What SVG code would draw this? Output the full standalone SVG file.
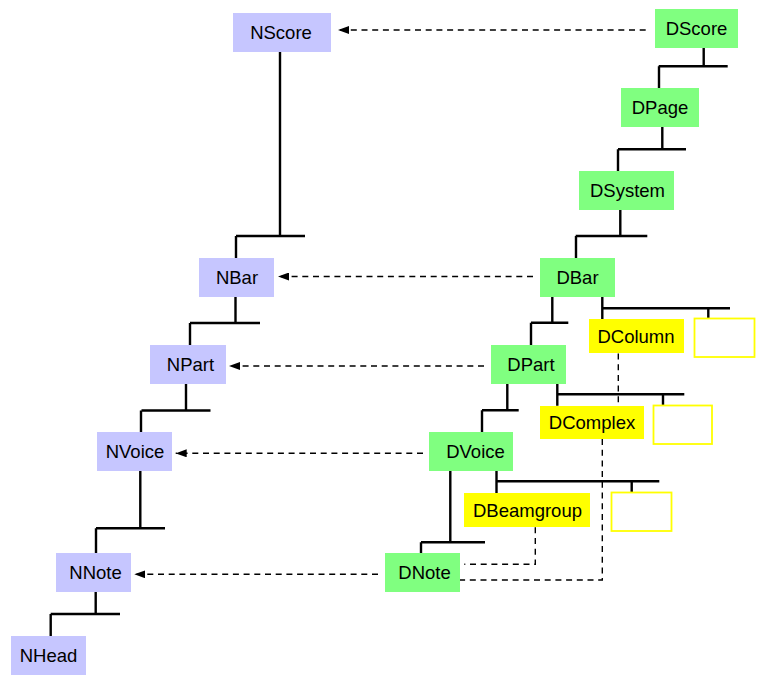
<svg xmlns="http://www.w3.org/2000/svg" width="765" height="686" viewBox="0 0 765 686">
<style>
.n rect{fill:#c6c6ff}
.d rect{fill:#80ff80}
.y rect{fill:#ffff00}
.w rect{fill:#ffffff;stroke:#ffff00;stroke-width:1.8}
text{font-family:"Liberation Sans",Arial,sans-serif;font-size:18.5px;fill:#000;text-anchor:middle}
.solid path{fill:none;stroke:#000;stroke-width:2.4}
.dash path{fill:none;stroke:#000;stroke-width:1.4;stroke-dasharray:6 4.7}
</style>
<defs>
<marker id="ah" viewBox="0 0 11 8" refX="11" refY="4" markerWidth="11" markerHeight="8" markerUnits="userSpaceOnUse" orient="auto">
<path d="M0,0 L11,4 L0,8 z" fill="#000"/>
</marker>
</defs>
<rect width="765" height="686" fill="#fff"/>
<g id="connectors">
<g class="solid">
<path d="M280,52 V236 M236,236 H305 M236,236 V258"/>
<path d="M235.5,297 V323 M190,323 H260 M190,323 V345"/>
<path d="M186,384 V410.5 M141.5,410.5 H210.5 M141,410.5 V432"/>
<path d="M140.3,471 V528.3 M96,528.3 H165 M96,528.3 V553"/>
<path d="M95.7,592 V614 M50.7,614 H120 M50.7,614 V636"/>
<path d="M703.7,48 V66.3 M658.7,66.3 H727.7 M659,66.3 V88"/>
<path d="M662.3,127 V149.3 M618,149.3 H686 M618,149.3 V171"/>
<path d="M620.3,210 V236 M575.7,236 H647.3 M576,236 V258"/>
<path d="M552.3,297 V322.7 M531,322.7 H568.3 M531,322.7 V345"/>
<path d="M602.3,297 V319 M602.3,308.3 H730 M708.3,308.3 V318.5"/>
<path d="M507.3,384 V410.3 M482,410.3 H518.7 M482,410.3 V432"/>
<path d="M557.3,384 V405.7 M557.3,394.3 H684.3 M663,394.3 V405"/>
<path d="M450.3,471 V542.3 M421,542.3 H485 M421,542.3 V553"/>
<path d="M496.5,471 V493 M496.5,481.3 H659.3 M631.7,481.3 V492"/>
</g>
<g class="dash">
<path d="M645.7,30 H338" marker-end="url(#ah)"/>
<path d="M533,276.5 H278" marker-end="url(#ah)"/>
<path d="M484,366 H229" marker-end="url(#ah)"/>
<path d="M423,453.3 H175.7" marker-end="url(#ah)"/>
<path d="M378,574.3 H134.3" marker-end="url(#ah)"/>
<path d="M618.3,353.5 V406"/>
<path d="M602.3,439 V580 H460"/>
<path d="M535.3,527.3 V564.3 H464.3"/>
</g>
</g>
<g id="NScore" class="n"><rect x="233" y="13" width="98" height="39"/><text x="281" y="39">NScore</text></g>
<g id="NBar" class="n"><rect x="199" y="258" width="75" height="39"/><text x="237" y="284">NBar</text></g>
<g id="NPart" class="n"><rect x="150" y="345" width="76" height="39"/><text x="190.5" y="371">NPart</text></g>
<g id="NVoice" class="n"><rect x="97" y="432" width="75" height="39"/><text x="135" y="458">NVoice</text></g>
<g id="NNote" class="n"><rect x="56" y="553" width="75" height="39"/><text x="95.5" y="579">NNote</text></g>
<g id="NHead" class="n"><rect x="11" y="636" width="75" height="39"/><text x="48.5" y="662">NHead</text></g>
<g id="DScore" class="d"><rect x="655" y="9" width="83" height="39"/><text x="696.5" y="35">DScore</text></g>
<g id="DPage" class="d"><rect x="621" y="88" width="78" height="39"/><text x="660" y="114">DPage</text></g>
<g id="DSystem" class="d"><rect x="579" y="171" width="95" height="39"/><text x="627.5" y="197">DSystem</text></g>
<g id="DBar" class="d"><rect x="540" y="258" width="75" height="39"/><text x="577.5" y="284">DBar</text></g>
<g id="DPart" class="d"><rect x="491" y="345" width="75" height="39"/><text x="531" y="371">DPart</text></g>
<g id="DVoice" class="d"><rect x="429" y="432" width="84" height="39"/><text x="475.5" y="458">DVoice</text></g>
<g id="DNote" class="d"><rect x="385" y="553" width="75" height="39"/><text x="424.5" y="579">DNote</text></g>
<g id="DColumn" class="y"><rect x="589" y="319" width="95" height="34"/><text x="636" y="342.5">DColumn</text></g>
<g id="DComplex" class="y"><rect x="540" y="406" width="104" height="33"/><text x="592" y="429">DComplex</text></g>
<g id="DBeamgroup" class="y"><rect x="464" y="493" width="126" height="34"/><text x="527.5" y="516.5">DBeamgroup</text></g>
<g id="Empty1" class="w"><rect x="694.5" y="318.5" width="60" height="38.5"/></g>
<g id="Empty2" class="w"><rect x="653.5" y="405.5" width="58.5" height="38.5"/></g>
<g id="Empty3" class="w"><rect x="611.5" y="492.5" width="60" height="38.5"/></g>
</svg>
